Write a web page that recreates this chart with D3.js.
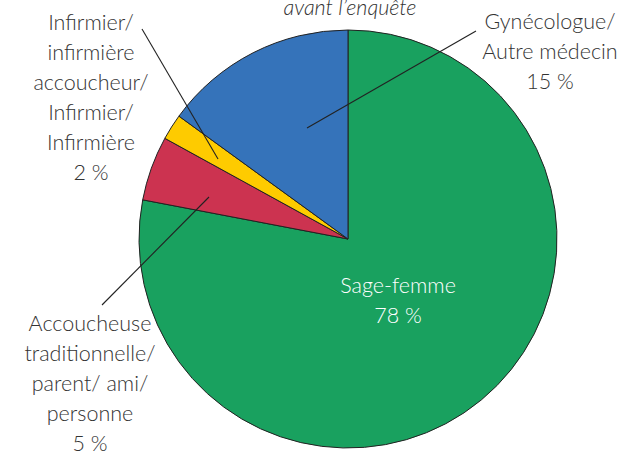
<!DOCTYPE html>
<html><head><meta charset="utf-8">
<script src="https://cdn.jsdelivr.net/npm/d3@7"></script>
<style>body{margin:0;background:#fff}svg{display:block}</style>
</head><body>
<svg id="c" width="626" height="451"></svg>
<script>
const categories = ["Sage-femme", "Accoucheuse traditionnelle/ parent/ ami/ personne", "Infirmier/ infirmière accoucheur/ Infirmier/ Infirmière", "Gynécologue/ Autre médecin"];
const values = [78, 5, 2, 15];
const colors = ["#19a15f", "#cc3350", "#fecb00", "#3573ba"];
const labelLines = [
  ["Sage-femme", "78 %"],
  ["Accoucheuse", "traditionnelle/", "parent/ ami/", "personne", "5 %"],
  ["Infirmier/", "infirmière", "accoucheur/", "Infirmier/", "Infirmière", "2 %"],
  ["Gynécologue/", "Autre médecin", "15 %"]
];
const title = "avant l’enquête";

const svg = d3.select("#c");
const cx = 348, cy = 239, R = 209;
const font = "Lato, 'Noto Sans', sans-serif";

const pie = d3.pie().sort(null).value(d => d)(values);
const arc = d3.arc().innerRadius(0).outerRadius(R);
const g = svg.append("g").attr("transform", `translate(${cx},${cy})`);
g.selectAll("path").data(pie).join("path")
  .attr("d", arc).attr("fill", (d, i) => colors[i])
  .attr("stroke", "#222").attr("stroke-width", 1).attr("stroke-linejoin", "round");

// leader lines
const leaders = [
  null,
  [[102, 305], [209, 197]],
  [[142, 29], [218, 159]],
  [[476, 31], [307, 128]]
];
leaders.forEach(l => {
  if (!l) return;
  svg.append("line").attr("x1", l[0][0]).attr("y1", l[0][1]).attr("x2", l[1][0]).attr("y2", l[1][1])
    .attr("stroke", "#222").attr("stroke-width", 1.1);
});

// label blocks: [center x, first baseline, fill]
const blocks = [
  [398, 293, "#fff"],
  [90, 331, "#333"],
  [91, 30, "#333"],
  [550, 29, "#333"]
];
const lh = 30;
labelLines.forEach((lines, i) => {
  const t = svg.append("text").attr("text-anchor", "middle")
    .attr("font-family", font).attr("font-size", 21.5).attr("font-weight", 300)
    .attr("fill", blocks[i][2]);
  lines.forEach((s, j) => {
    t.append("tspan").attr("x", blocks[i][0]).attr("y", blocks[i][1] + j * lh).text(s);
  });
});

svg.append("text").attr("x", 350).attr("y", 15).attr("text-anchor", "middle")
  .attr("font-family", font).attr("font-size", 21.5).attr("font-style", "italic").attr("font-weight", 300)
  .attr("fill", "#333").text(title);
</script>
</body></html>
